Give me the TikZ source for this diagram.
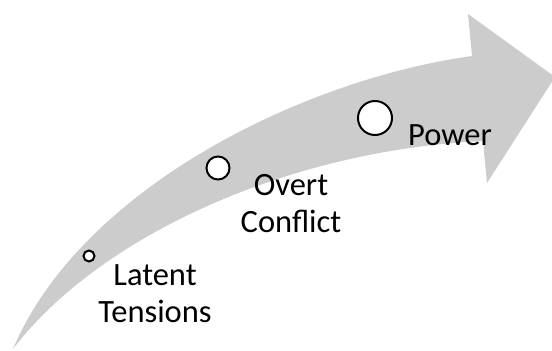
\documentclass[tikz,border=0pt]{standalone}
\usepackage{fontspec}
\setmainfont{Carlito}
\definecolor{arrowgray}{RGB}{204,204,204}
\begin{document}
\begin{tikzpicture}[x=1pt,y=-1pt,
  stagedot/.style={circle,draw=black,fill=white,line width=2pt,inner sep=0pt},
  stagelabel/.style={font=\fontsize{32.5}{37}\selectfont,align=center,inner sep=0pt,text=black}]
\useasboundingbox (0,0) rectangle (552,351);
\clip (0,0) rectangle (552,351);
% curved arrow
\fill[arrowgray] (13,349) .. controls (80,190) and (300,80) .. (472,56)
  -- (468,14) -- (555,77) -- (487,183) -- (483,141)
  .. controls (290,150) and (100,235) .. (13,349) -- cycle;
% stage markers
\node[stagedot,minimum size=11pt] (d1) at (89,256) {};
\node[stagedot,minimum size=23pt] (d2) at (218,168) {};
\node[stagedot,minimum size=34pt] (d3) at (375,118) {};
% labels
\node[stagelabel,anchor=north] (l1) at (155,264.5) {Latent\\Tensions};
\node[stagelabel,anchor=north] (l2) at (291,174) {Overt\\Conflict};
\node[stagelabel,anchor=base] (l3) at (450,145) {Power};
\end{tikzpicture}
\end{document}
